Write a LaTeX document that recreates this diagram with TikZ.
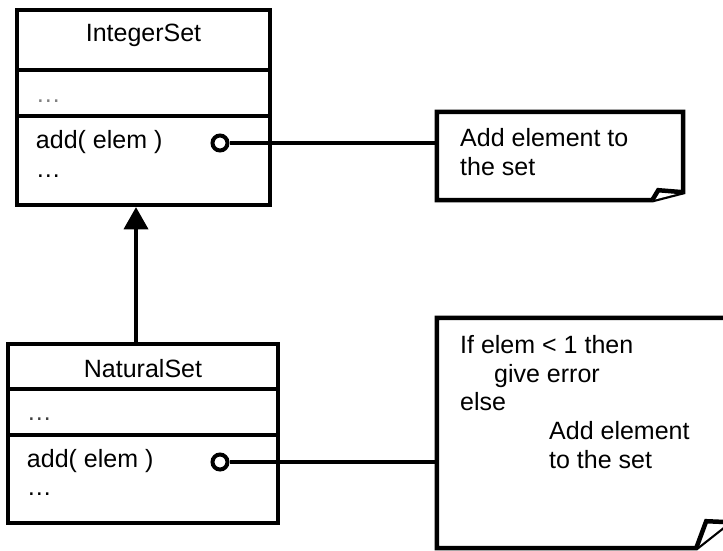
\documentclass[tikz,border=0pt]{standalone}
\usepackage{fontspec}
\setmainfont{Liberation Sans}
\usetikzlibrary{arrows.meta}

\def\umlfont{\fontsize{25}{28.75}\selectfont}
\def\widthA{253pt}
\def\widthB{270pt}

\begin{document}
\begin{tikzpicture}[x=1pt, y=-1pt,
% Here are defined the class compartments, the ports and the notes
compart/.style={
rectangle, draw=black, line width=4.5pt,
inner sep=0, fill=white },
classA/.style={
compart,
minimum width=\widthA },
classB/.style={
compart,
minimum width=\widthB },
txt/.style={
font=\umlfont, inner sep=0 },
port/.style={
circle, draw=black, line width=4pt,
minimum size=15pt, inner sep=0, fill=white },
link/.style={
line width=4pt },
note/.style={
rectangle, inner sep=0 },
noteline/.style={
line width=4.5pt, line join=miter, fill=white },
]
\useasboundingbox (0,0) rectangle (723,550);
\clip (0,0) rectangle (723,550);

%%%%%%%%%%%%%%%%%%%%%%%%
%%% THE TWO CLASSES
%%%%%%%%%%%%%%%%%%%%%%%%

% The super class: name, attributes, operations
\node[classA, minimum height=60pt] (nameA) at (143.5,40) {};
\node[txt, anchor=base] at ([yshift=-34pt]nameA.north) {IntegerSet};

\node[classA, minimum height=46pt] (attrA) at (143.5,93) {};
\node[txt, anchor=base west, text=gray] at ([xshift=21pt,yshift=-35pt]attrA.north west) {…};

\node[classA, minimum height=89pt] (opsA) at (143.5,160.5) {};
\node[txt, anchor=base west] at ([xshift=21pt,yshift=-35pt]opsA.north west) {add( elem )};
\node[txt, anchor=base west] at ([xshift=21pt,yshift=-64pt]opsA.north west) {…};

% The sub class
\node[classB, minimum height=45pt] (nameB) at (143,366.5) {};
\node[txt, anchor=base] at ([yshift=-36pt]nameB.north) {NaturalSet};

\node[classB, minimum height=46pt] (attrB) at (143,412) {};
\node[txt, anchor=base west, text=black!75] at ([xshift=21pt,yshift=-34pt]attrB.north west) {…};

\node[classB, minimum height=88pt] (opsB) at (143,479) {};
\node[txt, anchor=base west] at ([xshift=21pt,yshift=-35pt]opsB.north west) {add( elem )};
\node[txt, anchor=base west] at ([xshift=21pt,yshift=-63pt]opsB.north west) {…};

% Generalization
\draw[line width=4.5pt, -{Triangle[width=25pt,length=22pt,line width=0pt]}]
  ([xshift=-7pt]nameB.north) -- ([xshift=-7pt]nameB.north |- opsA.south);

%%%%%%%%%%%%%%%%%%%%%%%%
%%% THE TWO NOTES
%%%%%%%%%%%%%%%%%%%%%%%%

\node[note, minimum width=246pt, minimum height=88pt] (note1) at (560,156) {};
\node[note, minimum width=292pt, minimum height=230pt] (note2) at (583,433) {};

% links from the operations to the notes
\node[port] (portA) at (220,143) {};
\node[port] (portB) at (220,462) {};
\draw[link] (portA) -- (portA -| note1.west);
\draw[link] (portB) -- (portB -| note2.west);

% note outlines with the folded corner
\draw[noteline] (note1.north west) -- (note1.north east) -- ([yshift=8pt]note1.south east)
  -- ([xshift=-31pt]note1.south east) -- (note1.south west) -- cycle;
\draw[noteline] ([xshift=-31pt]note1.south east) -- ([xshift=-25pt,yshift=10pt]note1.south east)
  -- ([yshift=8pt]note1.south east);
\node[txt, anchor=north west, align=left] (text1) at (460,128) {Add element to\\the set};

\draw[noteline] (note2.north west) -- (note2.north east) -- ([yshift=26pt]note2.south east)
  -- ([xshift=-33pt]note2.south east) -- (note2.south west) -- cycle;
\draw[noteline] ([xshift=-33pt]note2.south east) -- ([xshift=-23pt,yshift=27pt]note2.south east)
  -- ([yshift=26pt]note2.south east);
\node[txt, anchor=north west, align=left] (text2) at (460,335) {If elem < 1 then\\
  \hspace*{34pt}give error\\
  else\\
  \hspace*{89pt}Add element\\
  \hspace*{89pt}to the set};

\end{tikzpicture}
\end{document}
